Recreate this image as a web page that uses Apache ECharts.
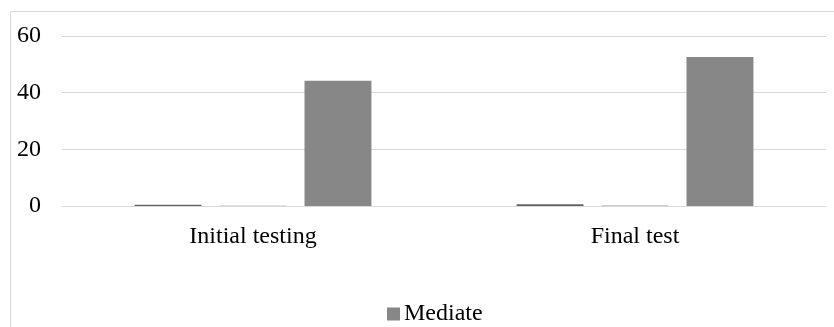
<!DOCTYPE html>
<html>
<head>
<meta charset="utf-8">
<script src="https://cdn.jsdelivr.net/npm/echarts@6/dist/echarts.min.js"></script>
<style>
  html, body { margin: 0; padding: 0; background: #ffffff; }
  #chart { width: 834px; height: 327px; }
</style>
</head>
<body>
<div id="chart"></div>
<script>
// Test stages on the horizontal axis
const categories = ['Initial testing', 'Final test'];
// Three series per stage; only the last one is named in the legend
const seriesNames = ['', ' ', 'Mediate'];
const seriesA = [0.4, 0.6];
const seriesB = [0.2, 0.3];
const mediate = [44.2, 52.6];
const yTicks = [0, 20, 40, 60];

const chart = echarts.init(document.getElementById('chart'), null, { renderer: 'canvas' });
const font = '"Liberation Serif", "Times New Roman", serif';

chart.setOption({
  animation: false,
  textStyle: { fontFamily: font },
  graphic: [{
    type: 'rect',
    shape: { x: 10.5, y: 11.5, width: 900, height: 400 },
    style: { fill: 'none', stroke: '#d9d9d9', lineWidth: 1 },
    silent: true
  }],
  grid: { left: 62, right: 8, top: 36, bottom: 121, containLabel: false },
  legend: {
    data: ['Mediate'],
    top: 302,
    left: 387,
    padding: 0,
    itemWidth: 13,
    itemHeight: 13,
    itemGap: 10,
    icon: 'rect',
    textStyle: { fontFamily: font, fontSize: 24, color: '#000', padding: [0, 0, 0, -1] }
  },
  xAxis: {
    type: 'category',
    data: categories,
    axisLine: { lineStyle: { color: '#d9d9d9', width: 1 } },
    axisTick: { show: false },
    axisLabel: { fontFamily: font, fontSize: 24, color: '#000', margin: 19 }
  },
  yAxis: {
    type: 'value',
    min: yTicks[0],
    max: yTicks[yTicks.length - 1],
    interval: yTicks[1] - yTicks[0],
    axisLine: { show: false },
    axisTick: { show: false },
    splitLine: { lineStyle: { color: '#d9d9d9', width: 1 } },
    axisLabel: { fontFamily: font, fontSize: 24, color: '#000', margin: 21 }
  },
  series: [
    { name: seriesNames[0], type: 'bar', data: seriesA, itemStyle: { color: '#636363' },
      barGap: '27%', barCategoryGap: '38%' },
    { name: seriesNames[1], type: 'bar', data: seriesB, itemStyle: { color: '#bdbdbd' } },
    { name: seriesNames[2], type: 'bar', data: mediate, itemStyle: { color: '#878787' } }
  ]
});
</script>
</body>
</html>
